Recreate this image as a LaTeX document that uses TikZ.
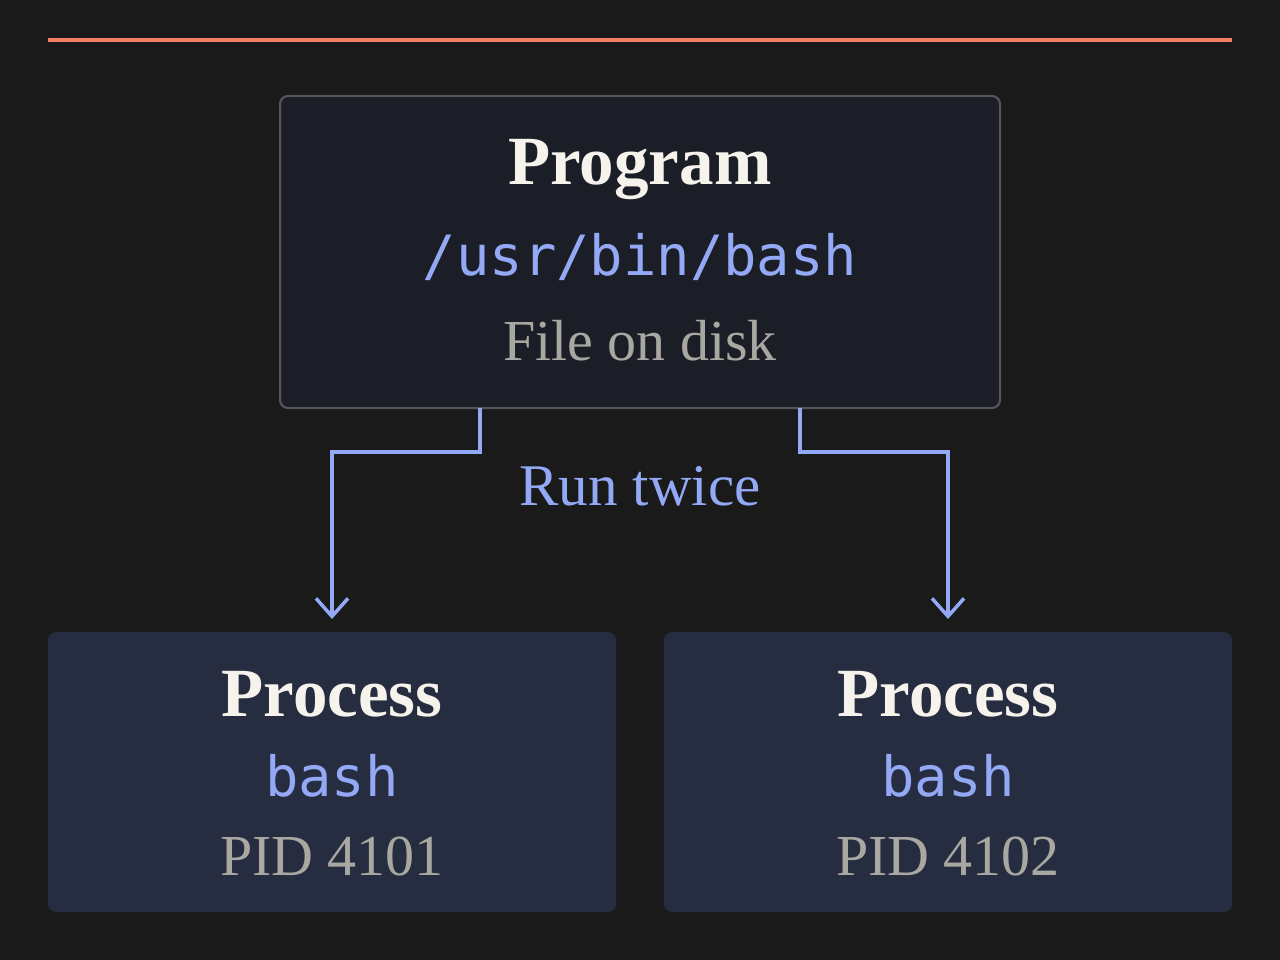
\documentclass[tikz,border=0pt]{standalone}
\usepackage{fontspec}
\setmainfont{Liberation Serif}
\setmonofont{DejaVu Sans Mono}
\usetikzlibrary{arrows.meta}
\definecolor{bg}{HTML}{1A1A1A}
\definecolor{accent}{HTML}{F47E66}
\definecolor{progfill}{HTML}{1B1E26}
\definecolor{progline}{HTML}{57575A}
\definecolor{procfill}{HTML}{272D40}
\definecolor{titlecol}{HTML}{F6F3EC}
\definecolor{bluecol}{HTML}{94A9F6}
\definecolor{graycol}{HTML}{A9A7A1}
\tikzset{
  box/.style={rectangle, rounded corners=8pt, inner sep=0pt, outer sep=0pt},
  progbox/.style={box, fill=progfill, draw=progline, line width=2pt},
  procbox/.style={box, fill=procfill},
  titletxt/.style={anchor=base, inner sep=0pt, text=titlecol, font=\fontsize{69}{70}\selectfont\bfseries},
  codetxt/.style={anchor=base, inner sep=0pt, text=bluecol, font=\fontsize{55.5}{60}\ttfamily},
  subtxt/.style={anchor=base, inner sep=0pt, text=graycol, font=\fontsize{58}{60}\selectfont},
  lbltxt/.style={anchor=base, inner sep=0pt, text=bluecol, font=\fontsize{59}{60}\selectfont},
  conn/.style={draw=bluecol, line width=3.5pt, -{Straight Barb[length=18pt,width=32pt,line width=3.5pt]}}
}
\begin{document}
\begin{tikzpicture}[x=1pt,y=-1pt]
\useasboundingbox (0,0) rectangle (1280,960);
\fill[bg] (0,0) rectangle (1280,960);
\coordinate (la) at (48,40);
\coordinate (lb) at (1232,40);
\draw[accent, line width=4pt] (la) -- (lb);
\node[progbox, minimum width=720pt, minimum height=312pt] (prog) at (640,252) {};
\node[procbox, minimum width=568pt, minimum height=280pt] (p1) at (332,772) {};
\node[procbox, minimum width=568pt, minimum height=280pt] (p2) at (948,772) {};
\node[titletxt] (progt) at (640,185) {Program};
\node[codetxt] (progc) at (640,276) {/usr/bin/bash};
\node[subtxt] (progs) at (640,360) {File on disk};
\node[titletxt] (p1t) at (332,716) {Process};
\node[codetxt] (p1c) at (332,796) {bash};
\node[subtxt] (p1s) at (332,875) {PID 4101};
\node[titletxt] (p2t) at (948,716) {Process};
\node[codetxt] (p2c) at (948,796) {bash};
\node[subtxt] (p2s) at (948,875) {PID 4102};
\node[lbltxt] (run) at (640,505) {Run twice};
\draw[conn] ([xshift=-160pt]prog.south) -- ++(0,44) -| ([yshift=13pt]p1.north);
\draw[conn] ([xshift=160pt]prog.south) -- ++(0,44) -| ([yshift=13pt]p2.north);
\end{tikzpicture}
\end{document}
